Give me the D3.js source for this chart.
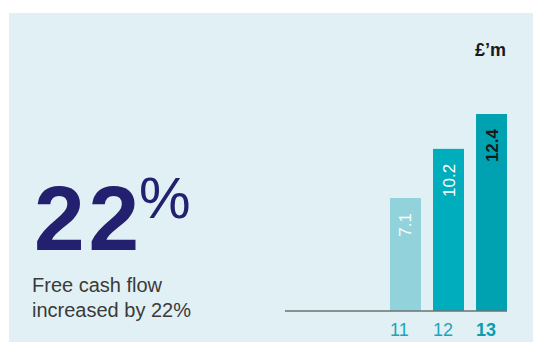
<!DOCTYPE html>
<html>
<head>
<meta charset="utf-8">
<script src="https://cdn.jsdelivr.net/npm/d3@7"></script>
<style>
  body { margin: 0; background: #fff; }
</style>
</head>
<body>
<div id="chart"></div>
<script>
// data
var years = ["11", "12", "13"];
var values = [7.1, 10.2, 12.4];
var barColors = ["#92d3db", "#00adbd", "#00a2b2"];
var labelColors = ["#ffffff", "#ffffff", "#1a1a1a"];
var headline = "22";
var unit = "£’m";
var caption = ["Free cash flow", "increased by 22%"];

var width = 533;
var height = 342;
var font = "'Liberation Sans', Arial, sans-serif";

var svg = d3.select("#chart").append("svg")
  .attr("width", width)
  .attr("height", height);

// background panel
svg.append("rect")
  .attr("x", 9)
  .attr("y", 13)
  .attr("width", width - 9)
  .attr("height", height - 13)
  .attr("fill", "#e1f0f4");

// scales
var x = d3.scaleBand()
  .domain(years)
  .range([390, 507])
  .paddingInner(0.28)
  .paddingOuter(0);

var y = d3.scaleLinear()
  .domain([0, 12.4])
  .range([310.5, 114]);

// bars
svg.selectAll(".bar").data(values).enter()
  .append("rect")
  .attr("class", "bar")
  .attr("x", function(d, i) { return x(years[i]); })
  .attr("y", function(d) { return y(d); })
  .attr("width", x.bandwidth())
  .attr("height", function(d) { return y(0) - y(d); })
  .attr("fill", function(d, i) { return barColors[i]; });

// value labels, rotated
svg.selectAll(".val").data(values).enter()
  .append("text")
  .attr("class", "val")
  .attr("transform", function(d, i) {
    return "translate(" + (x(years[i]) + x.bandwidth() / 2 + 6) + "," + (y(d) + 15) + ") rotate(-90)";
  })
  .attr("text-anchor", "end")
  .attr("fill", function(d, i) { return labelColors[i]; })
  .attr("font-size", "17px")
  .attr("font-weight", function(d, i) { return i == 2 ? "bold" : "normal"; })
  .attr("font-family", font)
  .text(function(d) { return d.toFixed(1); });

// baseline
svg.append("line")
  .attr("x1", 285)
  .attr("x2", x.range()[1])
  .attr("y1", y(0) + 0.5)
  .attr("y2", y(0) + 0.5)
  .attr("stroke", "#333")
  .attr("stroke-width", 1);

// x axis labels (left aligned on the bars)
var xAxis = d3.axisBottom(x).tickSize(0).tickPadding(0);
var gx = svg.append("g")
  .attr("transform", "translate(0," + (y(0) + 25.5) + ")")
  .call(xAxis);
gx.select(".domain").remove();
gx.selectAll(".tick")
  .attr("transform", function(d) { return "translate(" + x(d) + ",0)"; });
gx.selectAll("text")
  .attr("y", 0)
  .attr("dy", 0)
  .attr("text-anchor", "start")
  .attr("fill", function(d, i) { return i == 2 ? "#0d9cad" : "#1aa6b9"; })
  .attr("font-size", "18px")
  .attr("font-family", font)
  .attr("font-weight", function(d, i) { return i == 2 ? "bold" : "normal"; });

// unit
svg.append("text")
  .attr("x", 506)
  .attr("y", 56)
  .attr("text-anchor", "end")
  .attr("fill", "#1a1a1a")
  .attr("font-size", "18px")
  .attr("font-weight", "bold")
  .attr("font-family", font)
  .text(unit);

// headline
svg.append("text")
  .attr("x", 34)
  .attr("y", 250)
  .attr("fill", "#23206f")
  .attr("font-family", font)
  .attr("font-size", "91px")
  .attr("font-weight", "bold")
  .attr("letter-spacing", "4px")
  .text(headline);

svg.append("text")
  .attr("x", 139)
  .attr("y", 218)
  .attr("fill", "#23206f")
  .attr("font-family", font)
  .attr("font-size", "58px")
  .text("%");

// caption
svg.selectAll(".cap").data(caption).enter()
  .append("text")
  .attr("class", "cap")
  .attr("x", 32)
  .attr("y", function(d, i) { return 292 + i * 25; })
  .attr("fill", "#3a3a3a")
  .attr("font-size", "20px")
  .attr("font-family", font)
  .text(function(d) { return d; });
</script>
</body>
</html>
